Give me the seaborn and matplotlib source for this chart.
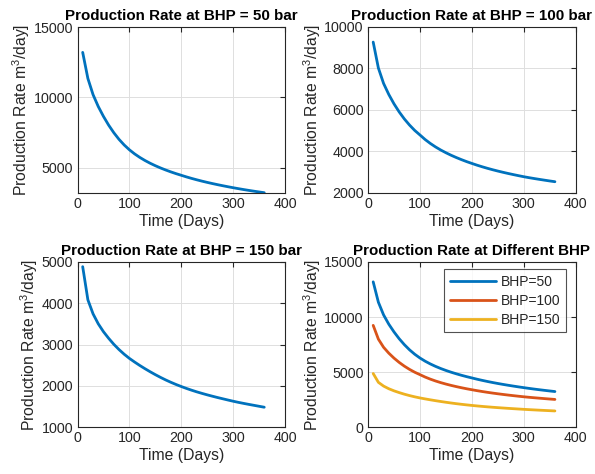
import numpy as np
import pandas as pd
import matplotlib
matplotlib.use('Agg')
import matplotlib.pyplot as plt
import seaborn as sns

# time in days
days = [10, 20, 30, 40, 50, 60, 70, 80, 90, 100, 110, 120, 130, 140, 150, 160, 170, 180,
        190, 200, 210, 220, 230, 240, 250, 260, 270, 280, 290, 300, 310, 320, 330, 340, 350, 360]

# production rate (m3/day)
q_bhp50 = [13200, 11350, 10200, 9360, 8660, 8040, 7500, 7030, 6630, 6290, 6000, 5750,
           5530, 5335, 5160, 5000, 4855, 4720, 4595, 4480, 4365, 4258, 4158, 4064,
           3976, 3893, 3814, 3739, 3667, 3598, 3532, 3469, 3409, 3352, 3297, 3244]
q_bhp100 = [9250, 8000, 7260, 6730, 6280, 5890, 5550, 5255, 4997, 4780, 4560, 4371,
            4204, 4056, 3924, 3803, 3693, 3591, 3496, 3409, 3325, 3247, 3174, 3106,
            3042, 2982, 2925, 2871, 2819, 2769, 2724, 2682, 2642, 2603, 2565, 2529]
q_bhp150 = [4880, 4080, 3740, 3500, 3310, 3150, 3005, 2878, 2765, 2665, 2577, 2494,
            2416, 2342, 2272, 2206, 2144, 2087, 2034, 1985, 1939, 1896, 1856, 1819,
            1784, 1751, 1719, 1689, 1659, 1630, 1603, 1578, 1554, 1531, 1508, 1485]

bhp_labels = ['BHP=50', 'BHP=100', 'BHP=150']
colors = ['#0072BD', '#D95319', '#EDB120']

sns.set_style('white')
plt.rcParams['font.family'] = ['Liberation Sans', 'DejaVu Sans']
plt.rcParams['mathtext.fontset'] = 'custom'
plt.rcParams['mathtext.rm'] = 'Liberation Sans'
plt.rcParams['mathtext.it'] = 'Liberation Sans'

axis_col = '#262626'
fig = plt.figure(figsize=(5.95, 4.74), dpi=100)

W, H = 595.0, 474.0
boxes = [(77.5, 27.0, 285.0, 192.7), (368.0, 26.5, 575.7, 192.7),
         (77.5, 261.7, 285.0, 427.3), (368.0, 262.0, 575.7, 427.3)]
axes = []
for (x0, y0, x1, y1) in boxes:
    axes.append(fig.add_axes([x0 / W, 1 - y1 / H, (x1 - x0) / W, (y1 - y0) / H]))

df = pd.DataFrame({'Time': days, 'BHP=50': q_bhp50, 'BHP=100': q_bhp100, 'BHP=150': q_bhp150})
df_long = df.melt(id_vars='Time', var_name='BHP', value_name='Rate')


def style_ax(ax, title, ylim, yticks):
    ax.set_xlim(0, 400)
    ax.set_xticks([0, 100, 200, 300, 400])
    ax.set_ylim(*ylim)
    ax.set_yticks(yticks)
    ax.grid(True, color='#dedede', linewidth=0.7)
    ax.set_axisbelow(True)
    for s in ax.spines.values():
        s.set_color(axis_col)
        s.set_linewidth(0.8)
    ax.tick_params(direction='in', length=3.5, width=0.8, colors=axis_col,
                   labelsize=10.3, top=True, right=True, labelcolor=axis_col, pad=3)
    ax.set_xlabel('Time (Days)', fontsize=11.3, color=axis_col, labelpad=2)
    ax.set_ylabel('Production Rate m$^3$/day]', fontsize=11.3, color=axis_col, labelpad=1)
    ax.set_title(title, fontsize=10.9, fontweight='bold', color='black', pad=5)


singles = [('BHP=50', 'Production Rate at BHP = 50 bar', (min(q_bhp50), 15000), [5000, 10000, 15000]),
           ('BHP=100', 'Production Rate at BHP = 100 bar', (2000, 10000), [2000, 4000, 6000, 8000, 10000]),
           ('BHP=150', 'Production Rate at BHP = 150 bar', (1000, 5000), [1000, 2000, 3000, 4000, 5000])]

for ax, (col, title, ylim, yt) in zip(axes[:3], singles):
    sns.lineplot(data=df, x='Time', y=col, ax=ax, color=colors[0], linewidth=2)
    style_ax(ax, title, ylim, yt)

ax = axes[3]
sns.lineplot(data=df_long, x='Time', y='Rate', hue='BHP', hue_order=bhp_labels,
             palette=colors, ax=ax, linewidth=2)
style_ax(ax, 'Production Rate at Different BHP', (0, 15000), [0, 5000, 10000, 15000])
leg = ax.legend(loc='upper right', fontsize=10, frameon=True, fancybox=False,
                handlelength=3.3, borderpad=0.4, labelspacing=0.35,
                bbox_to_anchor=(0.955, 0.955), handletextpad=0.4, borderaxespad=0)
leg.get_frame().set_edgecolor(axis_col)
leg.get_frame().set_linewidth(0.8)
for t in leg.get_texts():
    t.set_color(axis_col)

fig.savefig('out.png', dpi=100, facecolor='white')
